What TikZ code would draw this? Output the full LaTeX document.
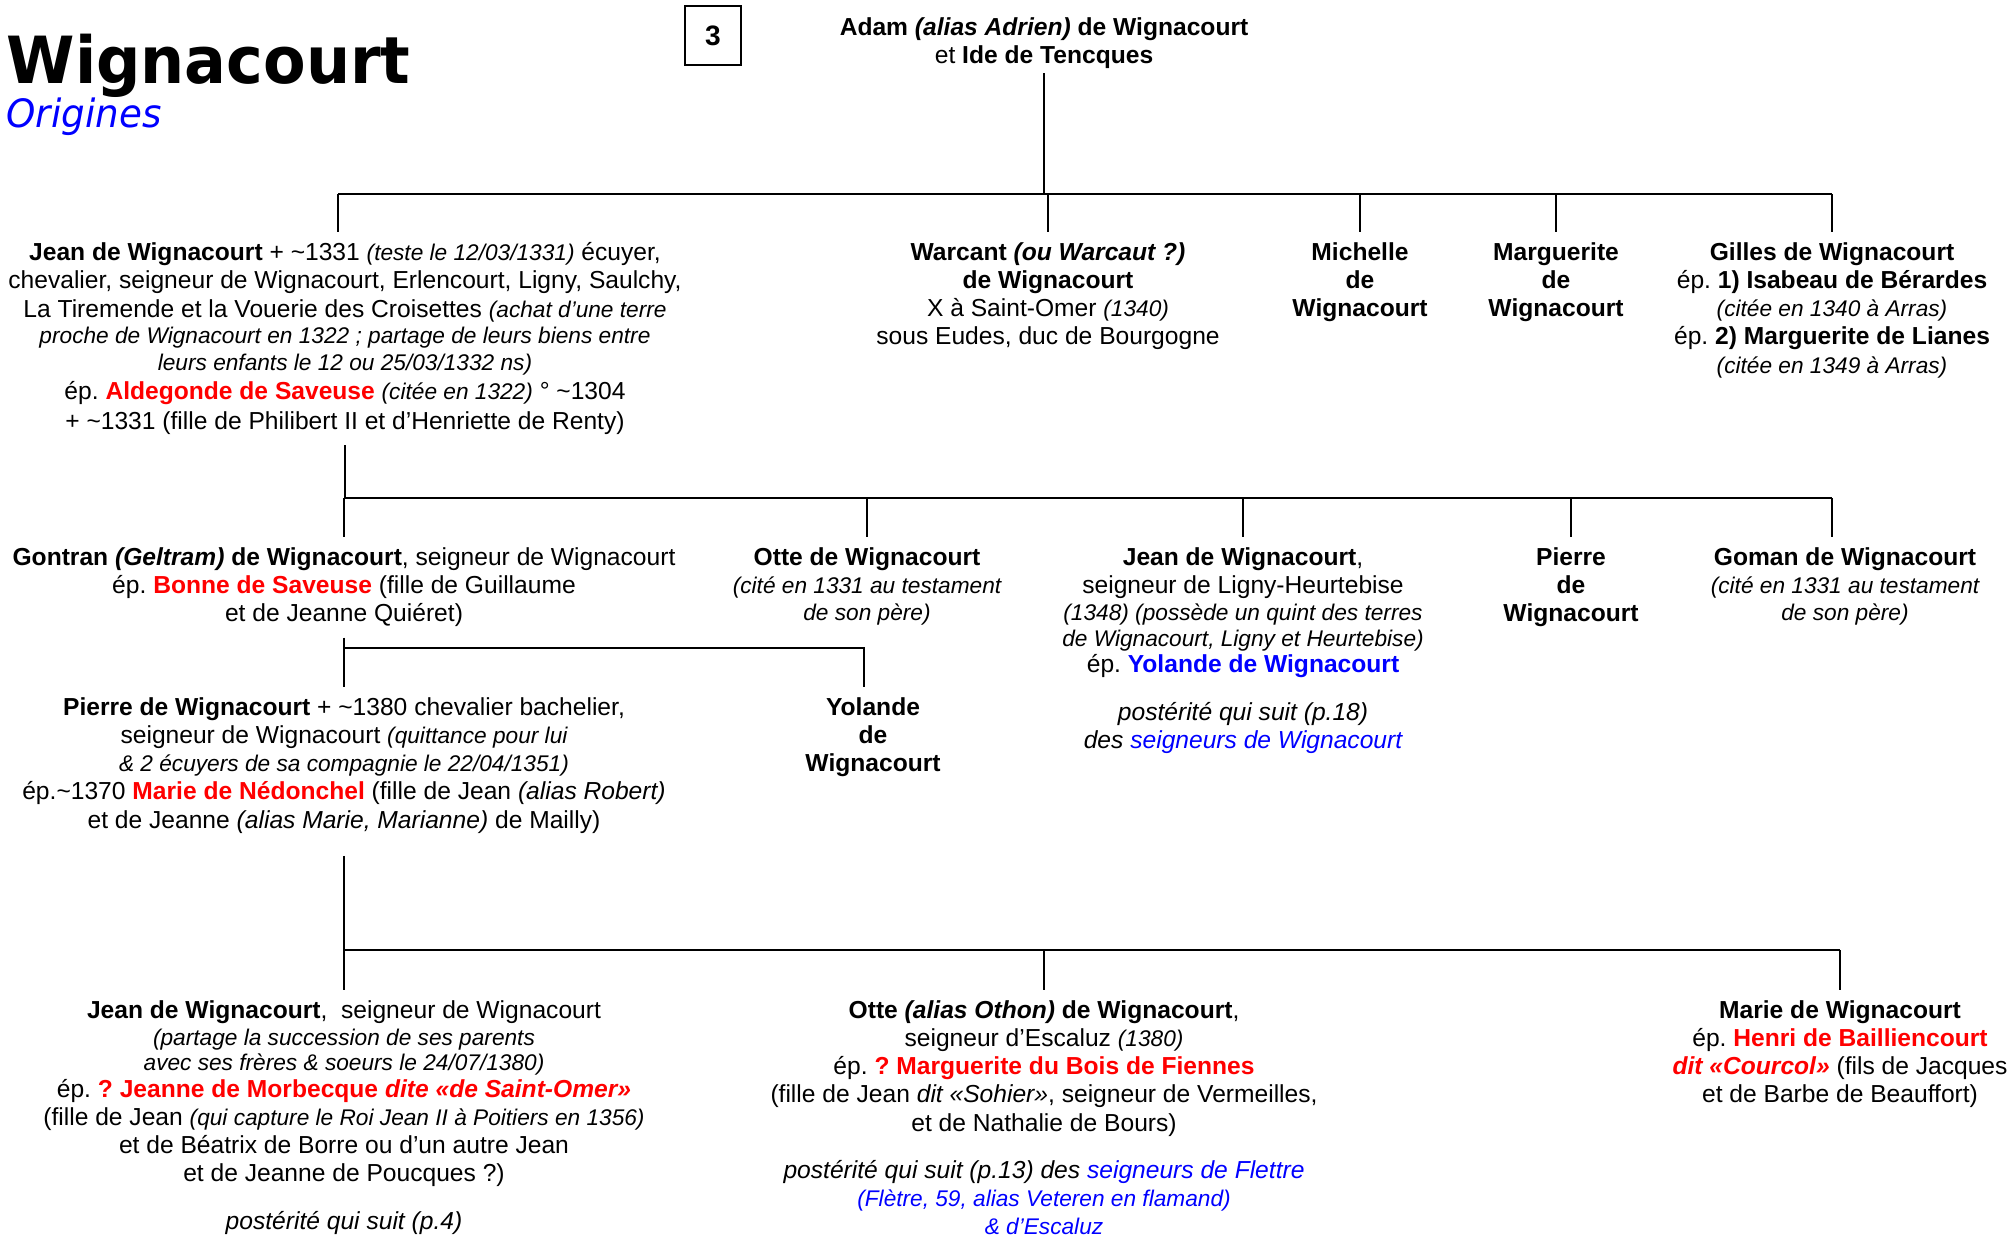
\documentclass[tikz,border=0pt]{standalone}
\usepackage{fontspec}
\setmainfont{Liberation Sans}
\newfontfamily\titrefont[FakeStretch=0.954]{DejaVu Sans}
\newcommand{\mention}[1]{{\fontsize{6.45}{8}\selectfont\itshape #1}}
\newcommand{\epouse}[1]{\textcolor{red}{\textbf{#1}}}
\frenchspacing
\tikzset{
    pers/.style={align=center, anchor=north, inner xsep=0mm, inner ysep=1mm, font=\fontsize{7}{8}\selectfont},
    lien/.style={line width=0.7pt}
}

\begin{document}
\begin{tikzpicture}
        \useasboundingbox (0,0) rectangle (20.13,-12.35);
        \node (titre) [anchor=base west, inner sep=0mm, font=\titrefont\bfseries\fontsize{18.5}{20}\selectfont] at (0.06,-0.83) {Wignacourt};
        \node (origines) [anchor=base west, inner sep=0mm, text=blue, font=\titrefont\itshape\fontsize{11.1}{12}\selectfont] at (0.06,-1.27) {Origines};
        \node (page) [draw, line width=0.5pt, minimum width=0.56cm, minimum height=0.59cm, inner sep=0mm, font=\bfseries\fontsize{8}{9}\selectfont] at (7.13,-0.355) {3};
        % couple de depart
        \node (adam) [pers] at (10.44,-0.07) {\textbf{Adam \textit{(alias Adrien)} de Wignacourt}\\ et \textbf{Ide de Tencques}};
        % premiere generation
        \node (jean1) [pers] at (3.45,-2.32) {\textbf{Jean de Wignacourt} + \textasciitilde1331 \mention{(teste le 12/03/1331)} écuyer,\\
                chevalier, seigneur de Wignacourt, Erlencourt, Ligny, Saulchy,\\
                La Tiremende et la Vouerie des Croisettes \mention{(achat d’une terre}\\[-0.4pt]
                \mention{proche de Wignacourt en 1322 ; partage de leurs biens entre}\\[-0.4pt]
                \mention{leurs enfants le 12 ou 25/03/1332 ns)}\\[0.3pt]
                ép. \epouse{Aldegonde de Saveuse} \mention{(citée en 1322)} ° \textasciitilde1304\\[0.5pt]
                + \textasciitilde1331 (fille de Philibert II et d’Henriette de Renty)};
        \node (warcant) [pers] at (10.48,-2.32) {\textbf{Warcant \textit{(ou Warcaut ?)}}\\ \textbf{de Wignacourt}\\ X à Saint-Omer \mention{(1340)}\\ sous Eudes, duc de Bourgogne};
        \node (michelle) [pers] at (13.60,-2.32) {\textbf{Michelle}\\ \textbf{de}\\ \textbf{Wignacourt}};
        \node (marguerite) [pers] at (15.56,-2.32) {\textbf{Marguerite}\\ \textbf{de}\\ \textbf{Wignacourt}};
        \node (gilles) [pers] at (18.32,-2.32) {\textbf{Gilles de Wignacourt}\\ ép. \textbf{1) Isabeau de Bérardes}\\ \mention{(citée en 1340 à Arras)}\\ ép. \textbf{2) Marguerite de Lianes}\\ \mention{(citée en 1349 à Arras)}};
        % deuxieme generation
        \node (gontran) [pers] at (3.44,-5.37) {\textbf{Gontran \textit{(Geltram)} de Wignacourt}, seigneur de Wignacourt\\ ép. \epouse{Bonne de Saveuse} (fille de Guillaume\\ et de Jeanne Quiéret)};
        \node (otte1) [pers] at (8.67,-5.37) {\textbf{Otte de Wignacourt}\\ \mention{(cité en 1331 au testament}\\[-0.5pt] \mention{de son père)}};
        \node (jean2) [pers] at (12.43,-5.37) {\textbf{Jean de Wignacourt},\\ seigneur de Ligny-Heurtebise\\[-0.4pt] \mention{(1348) (possède un quint des terres}\\[-0.7pt] \mention{de Wignacourt, Ligny et Heurtebise)}\\[-0.4pt] ép. \textcolor{blue}{\textbf{Yolande de Wignacourt}}\\[5.5pt]
                \textit{postérité qui suit (p.18)}\\ \textit{des \textcolor{blue}{seigneurs de Wignacourt}}};
        \node (pierre1) [pers] at (15.71,-5.37) {\textbf{Pierre}\\ \textbf{de}\\ \textbf{Wignacourt}};
        \node (goman) [pers] at (18.45,-5.37) {\textbf{Goman de Wignacourt}\\ \mention{(cité en 1331 au testament}\\[-0.5pt] \mention{de son père)}};
        % troisieme generation
        \node (pierre2) [pers] at (3.44,-6.87) {\textbf{Pierre de Wignacourt} + \textasciitilde1380 chevalier bachelier,\\ seigneur de Wignacourt \mention{(quittance pour lui}\\ \mention{\& 2 écuyers de sa compagnie le 22/04/1351)}\\
                ép.\textasciitilde1370 \epouse{Marie de Nédonchel} (fille de Jean \textit{(alias Robert)}\\ et de Jeanne \textit{(alias Marie, Marianne)} de Mailly)};
        \node (yolande) [pers] at (8.73,-6.87) {\textbf{Yolande}\\ \textbf{de}\\ \textbf{Wignacourt}};
        % quatrieme generation
        \node (jean3) [pers] at (3.44,-9.90) {\textbf{Jean de Wignacourt}, \ seigneur de Wignacourt\\[-0.4pt] \mention{(partage la succession de ses parents}\\[-0.7pt] \mention{avec ses frères \& soeurs le 24/07/1380)}\\[-0.4pt]
                ép. \epouse{? Jeanne de Morbecque \textit{dite «de Saint-Omer»}}\\ (fille de Jean \mention{(qui capture le Roi Jean II à Poitiers en 1356)}\\ et de Béatrix de Borre ou d’un autre Jean\\ et de Jeanne de Poucques ?)\\[5.5pt]
                \textit{postérité qui suit (p.4)}};
        \node (otte2) [pers] at (10.44,-9.90) {\textbf{Otte \textit{(alias Othon)} de Wignacourt},\\ seigneur d’Escaluz \mention{(1380)}\\ ép. \epouse{? Marguerite du Bois de Fiennes}\\ (fille de Jean \textit{dit «Sohier»}, seigneur de Vermeilles,\\ et de Nathalie de Bours)\\[5.5pt]
                \textit{postérité qui suit (p.13) des \textcolor{blue}{seigneurs de Flettre}}\\ \textcolor{blue}{\mention{(Flètre, 59, alias Veteren en flamand)}}\\ \textcolor{blue}{\mention{\& d’Escaluz}}};
        \node (marie) [pers] at (18.40,-9.90) {\textbf{Marie de Wignacourt}\\ ép. \epouse{Henri de Bailliencourt}\\ \epouse{\textit{dit «Courcol»}} (fils de Jacques\\ et de Barbe de Beauffort)};
        % barres de la fratrie
        \coordinate (b1) at (10.45,-1.94);
        \coordinate (b2) at (3.43,-4.98);
        \coordinate (b3) at (3.44,-6.48);
        \coordinate (b4) at (3.44,-9.50);
        \coordinate (jeanpied) at ([xshift=-0.07cm]jean1.north);
        \coordinate (gomanpied) at ([xshift=-0.13cm]goman.north);
        \coordinate (yolandepied) at ([xshift=-0.09cm]yolande.north);
        \draw [lien] ([yshift=0.06cm]adam.south) -- (adam.south |- b1);
        \draw [lien] (b1 -| jeanpied) -- (b1 -| gilles.north);
        \draw [lien] (b1 -| jeanpied) -- (jeanpied);
        \draw [lien] (b1 -| warcant.north) -- (warcant.north);
        \draw [lien] (b1 -| michelle.north) -- (michelle.north);
        \draw [lien] (b1 -| marguerite.north) -- (marguerite.north);
        \draw [lien] (b1 -| gilles.north) -- (gilles.north);
        \draw [lien] (jean1.south) -- (jean1.south |- b2);
        \draw [lien] (b2 -| gontran.north) -- (b2 -| gomanpied);
        \draw [lien] (b2 -| gontran.north) -- (gontran.north);
        \draw [lien] (b2 -| otte1.north) -- (otte1.north);
        \draw [lien] (b2 -| jean2.north) -- (jean2.north);
        \draw [lien] (b2 -| pierre1.north) -- (pierre1.north);
        \draw [lien] (b2 -| gomanpied) -- (gomanpied);
        \draw [lien] (gontran.south) -- (pierre2.north);
        \draw [lien] (b3) -- (b3 -| yolandepied) -- (yolandepied);
        \draw [lien] ([yshift=-0.12cm]pierre2.south) -- (pierre2.south |- b4);
        \draw [lien] (b4 -| jean3.north) -- (b4 -| marie.north);
        \draw [lien] (b4 -| jean3.north) -- (jean3.north);
        \draw [lien] (b4 -| otte2.north) -- (otte2.north);
        \draw [lien] (b4 -| marie.north) -- (marie.north);
\end{tikzpicture}
\end{document}
